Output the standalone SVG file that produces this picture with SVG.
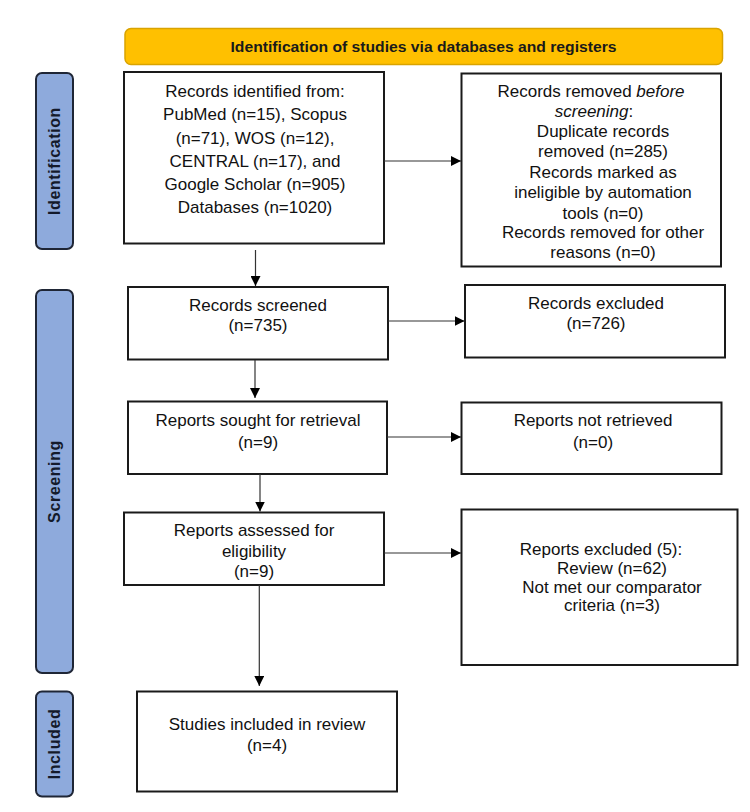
<svg xmlns="http://www.w3.org/2000/svg" width="750" height="812" viewBox="0 0 750 812">
<style>
  .box { fill: #ffffff; stroke: #1a1a1a; stroke-width: 2; }
  .side { fill: #8eaadc; stroke: #1f2636; stroke-width: 2; }
  .banner { fill: #ffc000; stroke: #d9a300; stroke-width: 1.5; }
  .t { font-family: "Liberation Sans", Arial, sans-serif; font-size: 17px; fill: #111; text-anchor: middle; }
  .sl { font-family: "Liberation Sans", Arial, sans-serif; font-size: 16px; font-weight: bold; fill: #141a2b; text-anchor: middle; letter-spacing: 0.6px; }
  .bt { font-family: "Liberation Sans", Arial, sans-serif; font-size: 15px; font-weight: bold; fill: #1a1a1a; text-anchor: middle; }
  .arrow { stroke: #333; stroke-width: 1.2; fill: none; marker-end: url(#ah); }
</style>
<defs>
  <marker id="ah" viewBox="0 0 10 10" refX="10" refY="5" markerWidth="10" markerHeight="10" markerUnits="userSpaceOnUse" orient="auto">
    <path d="M0,0 L10,5 L0,10 Z" fill="#000"/>
  </marker>
</defs>
<rect width="750" height="812" fill="#ffffff"/>

<g id="banner">
  <rect class="banner" x="125" y="28.5" width="597.5" height="36" rx="6"/>
  <text class="bt" x="423.5" y="52" textLength="386" lengthAdjust="spacingAndGlyphs">Identification of studies via databases and registers</text>
</g>

<g id="side-identification">
  <rect class="side" x="36" y="73" width="37" height="176" rx="6"/>
  <text class="sl" transform="translate(60,161) rotate(-90)">Identification</text>
</g>
<g id="side-screening">
  <rect class="side" x="36" y="290" width="37" height="383" rx="6"/>
  <text class="sl" transform="translate(60,481.5) rotate(-90)">Screening</text>
</g>
<g id="side-included">
  <rect class="side" x="36" y="691.5" width="37" height="105" rx="6"/>
  <text class="sl" transform="translate(60,744) rotate(-90)">Included</text>
</g>

<g id="records-identified">
  <rect class="box" x="124" y="72" width="260" height="171.5"/>
  <text class="t" x="255" y="97">Records identified from:</text>
  <text class="t" x="255" y="120">PubMed (n=15), Scopus</text>
  <text class="t" x="255" y="143.5">(n=71), WOS (n=12),</text>
  <text class="t" x="255" y="167">CENTRAL (n=17), and</text>
  <text class="t" x="255" y="190">Google Scholar (n=905)</text>
  <text class="t" x="255" y="213">Databases (n=1020)</text>
</g>

<g id="records-removed">
  <rect class="box" x="461.5" y="73.5" width="259.5" height="193"/>
  <text class="t" x="591" y="96.5">Records removed <tspan font-style="italic">before</tspan></text>
  <text class="t" x="594" y="116.5"><tspan font-style="italic">screening</tspan>:</text>
  <text class="t" x="603" y="137">Duplicate records</text>
  <text class="t" x="603" y="157">removed (n=285)</text>
  <text class="t" x="603" y="177.5">Records marked as</text>
  <text class="t" x="603" y="197.5">ineligible by automation</text>
  <text class="t" x="603" y="218.5">tools (n=0)</text>
  <text class="t" x="603" y="238">Records removed for other</text>
  <text class="t" x="603" y="258">reasons (n=0)</text>
</g>

<g id="records-screened">
  <rect class="box" x="128" y="287" width="260" height="72.5"/>
  <text class="t" x="258" y="311">Records screened</text>
  <text class="t" x="258" y="331">(n=735)</text>
</g>

<g id="records-excluded">
  <rect class="box" x="465" y="285" width="260" height="72.5"/>
  <text class="t" x="596" y="309">Records excluded</text>
  <text class="t" x="596" y="329">(n=726)</text>
</g>

<g id="reports-sought">
  <rect class="box" x="128" y="401.5" width="259" height="72.5"/>
  <text class="t" x="258" y="426">Reports sought for retrieval</text>
  <text class="t" x="258" y="448">(n=9)</text>
</g>

<g id="reports-not-retrieved">
  <rect class="box" x="461.5" y="402.5" width="260" height="71.5"/>
  <text class="t" x="593" y="426">Reports not retrieved</text>
  <text class="t" x="593" y="447.5">(n=0)</text>
</g>

<g id="reports-assessed">
  <rect class="box" x="124" y="512.5" width="260" height="72.5"/>
  <text class="t" x="254" y="536">Reports assessed for</text>
  <text class="t" x="254" y="556.5">eligibility</text>
  <text class="t" x="254" y="577">(n=9)</text>
</g>

<g id="reports-excluded">
  <rect class="box" x="461.5" y="509.5" width="276" height="155.5"/>
  <text class="t" x="601" y="555">Reports excluded (5):</text>
  <text class="t" x="612" y="574">Review (n=62)</text>
  <text class="t" x="612" y="592.5">Not met our comparator</text>
  <text class="t" x="612" y="611">criteria (n=3)</text>
</g>

<g id="studies-included">
  <rect class="box" x="137" y="691.5" width="260" height="100"/>
  <text class="t" x="267" y="730">Studies included in review</text>
  <text class="t" x="267" y="751">(n=4)</text>
</g>

<g id="connectors">
  <line class="arrow" x1="384" y1="161" x2="461" y2="161"/>
  <line class="arrow" x1="388" y1="321" x2="464.5" y2="321"/>
  <line class="arrow" x1="387" y1="437" x2="461" y2="437"/>
  <line class="arrow" x1="384" y1="553" x2="461" y2="553"/>
  <line class="arrow" x1="255.5" y1="250" x2="255.5" y2="286"/>
  <line class="arrow" x1="255" y1="360" x2="255" y2="398"/>
  <line class="arrow" x1="260" y1="474" x2="260" y2="511.5"/>
  <line class="arrow" x1="259.3" y1="585" x2="259.3" y2="686"/>
</g>
</svg>
